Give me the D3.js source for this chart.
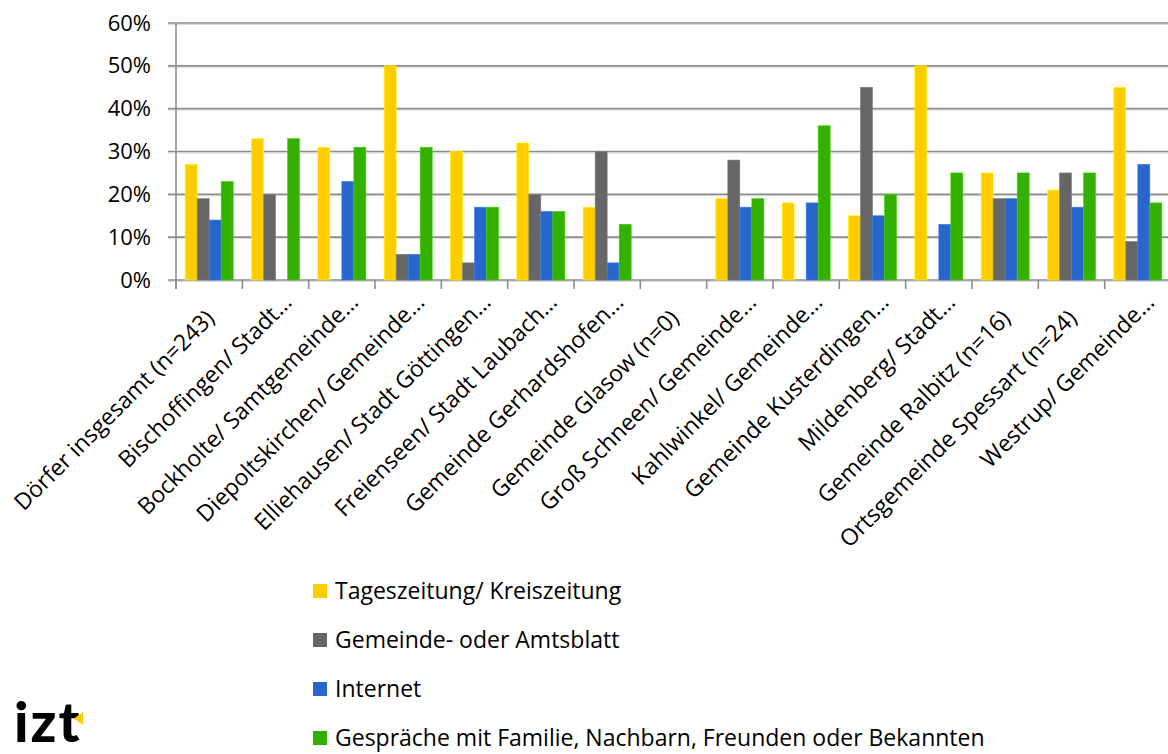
<!DOCTYPE html>
<html>
<head>
<meta charset="utf-8">
<script src="https://cdn.jsdelivr.net/npm/d3@7"></script>
<style>
html,body{margin:0;padding:0;background:#fff;}
svg{display:block;font-family:"Open Sans",sans-serif;}
</style>
</head>
<body>
<svg id="chart" width="1168" height="754"></svg>
<script>
const categories = [
  "Dörfer insgesamt (n=243)",
  "Bischoffingen/ Stadt…",
  "Bockholte/ Samtgemeinde…",
  "Diepoltskirchen/ Gemeinde…",
  "Elliehausen/ Stadt Göttingen…",
  "Freienseen/ Stadt Laubach…",
  "Gemeinde Gerhardshofen…",
  "Gemeinde Glasow (n=0)",
  "Groß Schneen/ Gemeinde…",
  "Kahlwinkel/ Gemeinde…",
  "Gemeinde Kusterdingen…",
  "Mildenberg/ Stadt…",
  "Gemeinde Ralbitz (n=16)",
  "Ortsgemeinde Spessart (n=24)",
  "Westrup/ Gemeinde…"
];
const seriesNames = [
  "Tageszeitung/ Kreiszeitung",
  "Gemeinde- oder Amtsblatt",
  "Internet",
  "Gespräche mit Familie, Nachbarn, Freunden oder Bekannten"
];
const tageszeitung = [27,33,31,50,30,32,17,0,19,18,15,50,25,21,45];
const amtsblatt    = [19,20,0,6,4,20,30,0,28,0,45,0,19,25,9];
const internet     = [14,0,23,6,17,16,4,0,17,18,15,13,19,17,27];
const gespraeche   = [23,33,31,31,17,16,13,0,19,36,20,25,25,25,18];
const seriesValues = [tageszeitung, amtsblatt, internet, gespraeche];
const colors = ["#FFCC00","#666666","#2966CC","#33B000"];
const yTicks = [0,10,20,30,40,50,60];

const svg = d3.select("#chart");
const plotLeft = 176, plotRight = 1171, plotTop = 23, plotBottom = 280;

const x0 = d3.scaleBand().domain(categories).range([plotLeft, plotRight]).paddingInner(0).paddingOuter(0);
const x1 = d3.scaleBand().domain(d3.range(seriesNames.length)).range([0, x0.bandwidth()]).paddingInner(0).paddingOuter(0.76);
const y = d3.scaleLinear().domain([0,60]).range([plotBottom, plotTop]);

// gridlines
const grid = svg.append("g");
yTicks.forEach(t => {
  grid.append("line").attr("x1", plotLeft - 8).attr("x2", 1168)
    .attr("y1", y(t) + 1.5).attr("y2", y(t) + 1.5)
    .attr("stroke", "#dddddd").attr("stroke-width", 1);
  grid.append("line").attr("x1", plotLeft - 8).attr("x2", 1168)
    .attr("y1", y(t)).attr("y2", y(t))
    .attr("stroke", "#8c8c8c").attr("stroke-width", 1.6);
});

// y axis
const yAxis = d3.axisLeft(y).tickValues(yTicks).tickFormat(d => d + "%").tickSize(0).tickPadding(25);
const gy = svg.append("g").attr("transform", `translate(${plotLeft},0)`).call(yAxis);
gy.select(".domain").remove();
gy.selectAll("text").attr("font-size", 22).attr("fill", "#000").attr("font-family", "'Open Sans',sans-serif");

svg.append("line").attr("x1", plotLeft).attr("x2", plotLeft).attr("y1", plotTop).attr("y2", plotBottom + 9)
  .attr("stroke", "#8c8c8c").attr("stroke-width", 1.6);

// x ticks at category boundaries
const bounds = categories.map(c => x0(c)).concat([plotRight]);
bounds.forEach(b => {
  svg.append("line").attr("x1", b).attr("x2", b).attr("y1", plotBottom).attr("y2", plotBottom + 9)
    .attr("stroke", "#8c8c8c").attr("stroke-width", 1.6);
});

// bars
const bars = svg.append("g");
categories.forEach((c, i) => {
  seriesValues.forEach((vals, s) => {
    const v = vals[i];
    if (v <= 0) return;
    bars.append("rect")
      .attr("x", x0(c) + x1(s))
      .attr("width", x1.bandwidth())
      .attr("y", y(v))
      .attr("height", y(0) - y(v))
      .attr("fill", colors[s])
      .attr("stroke", d3.color(colors[s]).brighter(0.6))
      .attr("stroke-width", 0.6);
  });
});

// x labels
categories.forEach(c => {
  const cx = x0(c) + x0.bandwidth() / 2;
  const trunc = c.endsWith("…");
  const ax = trunc ? cx + 12 : cx + 1;
  const ay = trunc ? 298 : 314;
  svg.append("text")
    .attr("transform", `translate(${ax},${ay}) rotate(-45)`)
    .attr("text-anchor", "end")
    .attr("dy", "0.35em")
    .attr("font-size", 23)
    .attr("fill", "#000")
    .text(c);
});

// legend
const legendY = [591, 640, 689, 738];
seriesNames.forEach((n, s) => {
  svg.append("rect").attr("x", 313).attr("y", legendY[s] - 7).attr("width", 14).attr("height", 14).attr("fill", colors[s]);
  svg.append("text").attr("x", 335).attr("y", legendY[s]).attr("dy", "0.35em")
    .attr("font-size", 23).attr("fill", "#000").text(n);
});

// logo
svg.append("text").attr("x", 14).attr("y", 742).attr("font-family", "Lato, sans-serif")
  .attr("font-weight", 900).attr("font-size", 56).attr("letter-spacing", 2).attr("fill", "#000").text("izt");
svg.append("path").attr("d", "M74,718.5 L83,712 L83,725 Z").attr("fill", "#FFCC00");
</script>
</body>
</html>
